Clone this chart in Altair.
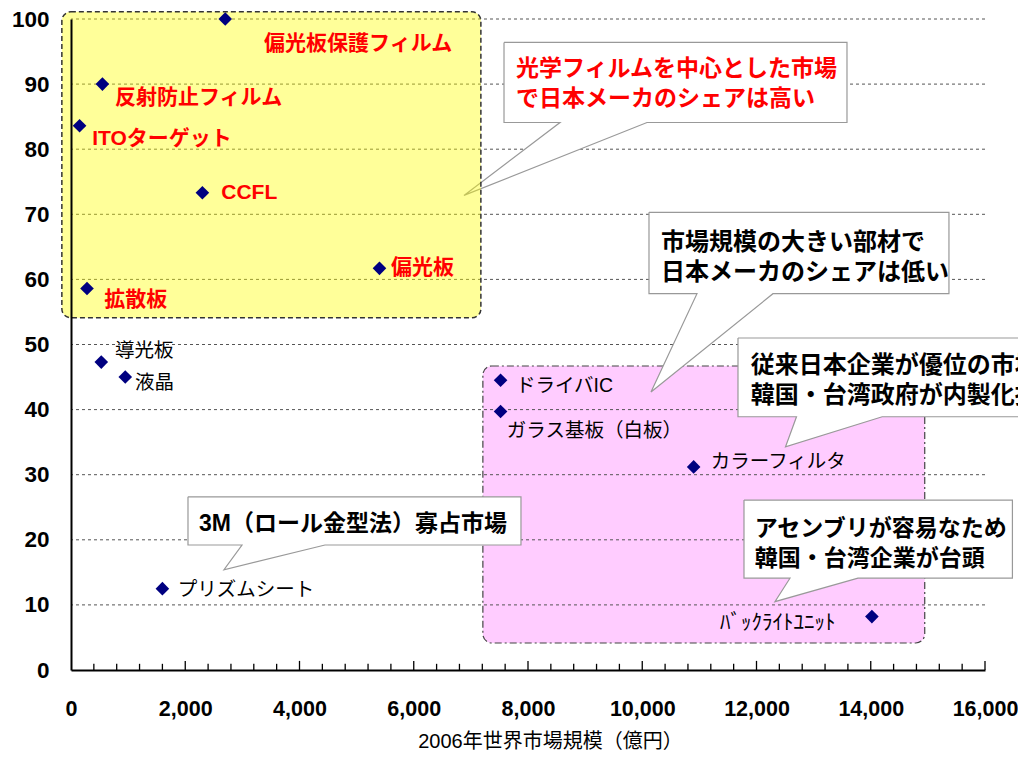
import altair as alt
import pandas as pd

# ---------------- data ----------------
names = ["偏光板保護フィルム", "反射防止フィルム", "ITOターゲット", "CCFL", "偏光板", "拡散板",
         "導光板", "液晶", "プリズムシート", "ドライバIC", "ガラス基板（白板）", "カラーフィルタ",
         "ﾊﾞｯｸﾗｲﾄﾕﾆｯﾄ"]
market = [2700, 550, 150, 2300, 5400, 280, 530, 950, 1600, 7520, 7520, 10900, 14020]
share = [100, 90, 83.6, 73.3, 61.7, 58.6, 47.3, 45.0, 12.5, 44.5, 39.7, 31.2, 8.2]
highlight = [True, True, True, True, True, True, False, False, False, False, False, False, False]

# label anchor positions (data units)
label_x = [3380, 770, 370, 2630, 5600, 580, 770, 1120, 1870, 7790, 7630, 11200, 11360]
label_y = [96.2, 87.9, 81.6, 73.3, 61.8, 56.9, 49.0, 44.1, 12.3, 43.7, 36.7, 32.0, 7.2]

x_major = [0, 2000, 4000, 6000, 8000, 10000, 12000, 14000, 16000]
x_minor = [400, 800, 1200, 1600, 2400, 2800, 3200, 3600, 4400, 4800, 5200, 5600,
           6400, 6800, 7200, 7600, 8400, 8800, 9200, 9600, 10400, 10800, 11200, 11600,
           12400, 12800, 13200, 13600, 14400, 14800, 15200, 15600]
y_ticks = [0, 10, 20, 30, 40, 50, 60, 70, 80, 90, 100]
grid_y = [10, 20, 30, 40, 50, 60, 70, 80, 90, 100]

# highlighted regions (data units)
region_x1 = [-160, 7210]
region_x2 = [7175, 14945]
region_y1 = [101.1, 46.7]
region_y2 = [54.1, 4.15]

# callouts
callout_text = [
    "光学フィルムを中心とした市場\nで日本メーカのシェアは高い",
    "市場規模の大きい部材で\n日本メーカのシェアは低い",
    "従来日本企業が優位の市場\n韓国・台湾政府が内製化推進",
    "アセンブリが容易なため\n韓国・台湾企業が台頭",
    "3M（ロール金型法）寡占市場",
]
callout_color = ["#FF0000", "#000000", "#000000", "#000000", "#000000"]
callout_size = [23, 24, 24, 23, 23]
callout_tx = [7790, 10330, 11900, 11970, 2240]
callout_ty = [94.0, 67.5, 48.6, 23.4, 24.1]
box_x1 = [7580, 10118, 11676, 11781, 2048]
box_x2 = [13584, 15369, 17800, 16480, 7877]
box_y1 = [96.4, 70.3, 51.0, 26.1, 26.6]
box_y2 = [84.1, 57.8, 38.9, 14.1, 19.2]
tail_l = [8560, 10958, 12700, 12586, 2993]
tail_r = [10083, 12288, 14200, 13776, 4446]
tip_x = [6879, 10153, 12508, 12323, 2678]
tip_y = [72.9, 42.7, 34.3, 10.5, 15.4]

# ---------------- tables ----------------
pts = pd.DataFrame({"name": names, "market": market, "share": share, "hl": highlight,
                    "lx": label_x, "ly": label_y})

poly_rows = []
for i in range(len(callout_text)):
    seq = [(box_x1[i], box_y1[i]), (box_x2[i], box_y1[i]), (box_x2[i], box_y2[i]),
           (tail_r[i], box_y2[i]), (tip_x[i], tip_y[i]), (tail_l[i], box_y2[i]),
           (box_x1[i], box_y2[i]), (box_x1[i], box_y1[i])]
    for k, (px, py) in enumerate(seq):
        poly_rows.append({"id": i, "k": k, "x": px, "y": py})
poly = pd.DataFrame(poly_rows)

ctext = pd.DataFrame({"t": callout_text, "c": callout_color, "s": callout_size,
                      "x": callout_tx, "y": callout_ty})
regions = pd.DataFrame({"x1": region_x1, "x2": region_x2, "y1": region_y1, "y2": region_y2})
grid = pd.DataFrame({"y": grid_y})
tmaj = pd.DataFrame({"x": x_major[1:], "y": [0] * 8, "y2": [1.4] * 8})
tmin = pd.DataFrame({"x": x_minor, "y": [0] * len(x_minor), "y2": [0.95] * len(x_minor)})

FONT = "Liberation Sans, Noto Sans CJK JP"

xs = alt.Scale(domain=[0, 16000], nice=False, zero=False)
ys = alt.Scale(domain=[0, 100], nice=False, zero=False)

xaxis = alt.Axis(values=x_major, format=",.0f", labelFont="Liberation Sans", labelFontSize=21.5,
                 labelFontWeight="bold", labelColor="black", ticks=False, domainColor="black",
                 domainWidth=2, grid=False, labelPadding=28, labelFlush=False, labelOverlap=False,
                 title="2006年世界市場規模（億円）", titleFont=FONT, titleFontSize=20,
                 titleFontWeight="normal", titleColor="black", titleX=479, titleY=71,
                 titleBaseline="middle", titleAlign="center", zindex=1)
yaxis = alt.Axis(values=y_ticks, labelFont="Liberation Sans", labelFontSize=22.5,
                 labelFontWeight="bold", labelColor="black", ticks=False, domainColor="black",
                 domainWidth=2, grid=False, labelPadding=22, labelFlush=False,
                 labelOverlap=False, title=None, zindex=1)

base_x = alt.X("market:Q", scale=xs, axis=xaxis)
base_y = alt.Y("share:Q", scale=ys, axis=yaxis)

pink = alt.Chart(regions.iloc[[1]]).mark_rect(
    fill="#FFCCFF", stroke="#444444", strokeWidth=1.2, strokeDash=[7, 3, 2, 3], cornerRadius=9
).encode(x=alt.X("x1:Q", scale=xs), x2="x2:Q", y=alt.Y("y1:Q", scale=ys), y2="y2:Q")

yellow = alt.Chart(regions.iloc[[0]]).mark_rect(
    fill="#FFFF00", fillOpacity=0.4, stroke="#333333", strokeWidth=1.5, strokeDash=[5, 3],
    cornerRadius=9
).encode(x=alt.X("x1:Q", scale=xs), x2="x2:Q", y=alt.Y("y1:Q", scale=ys), y2="y2:Q")

gridl = alt.Chart(grid).mark_rule(color="#555555", strokeWidth=1, strokeDash=[3, 3]).encode(
    y=alt.Y("y:Q", scale=ys))

ticks_major = alt.Chart(tmaj).mark_rule(color="black", strokeWidth=1.3).encode(
    x=alt.X("x:Q", scale=xs), y=alt.Y("y:Q", scale=ys), y2="y2:Q")
ticks_minor = alt.Chart(tmin).mark_rule(color="black", strokeWidth=1.3).encode(
    x=alt.X("x:Q", scale=xs), y=alt.Y("y:Q", scale=ys), y2="y2:Q")

callouts = alt.Chart(poly).mark_line(
    fill="white", stroke="#999999", strokeWidth=1.2, interpolate="linear", strokeJoin="miter"
).encode(x=alt.X("x:Q", scale=xs), y=alt.Y("y:Q", scale=ys), detail="id:N", order="k:Q")

points = alt.Chart(pts).mark_point(shape="diamond", filled=True, size=185, color="#000080",
                                   opacity=1).encode(x=base_x, y=base_y)

lab_red = alt.Chart(pts).transform_filter("datum.hl").mark_text(
    align="left", baseline="middle", font=FONT, fontSize=21, fontWeight="bold", color="#FF0000"
).encode(x=alt.X("lx:Q", scale=xs), y=alt.Y("ly:Q", scale=ys), text="name:N")

lab_blk = alt.Chart(pts).transform_filter(
    "!datum.hl && datum.name != 'ﾊﾞｯｸﾗｲﾄﾕﾆｯﾄ'").mark_text(
    align="left", baseline="middle", font=FONT, fontSize=19.5, fontWeight="normal", color="black"
).encode(x=alt.X("lx:Q", scale=xs), y=alt.Y("ly:Q", scale=ys), text="name:N")

lab_half = alt.Chart(pts).transform_filter("datum.name == 'ﾊﾞｯｸﾗｲﾄﾕﾆｯﾄ'").mark_text(
    align="left", baseline="middle", font=FONT, fontSize=21, fontWeight="normal", color="black"
).encode(x=alt.X("lx:Q", scale=xs), y=alt.Y("ly:Q", scale=ys), text="name:N")

ctexts = alt.Chart(ctext).mark_text(
    align="left", baseline="top", font=FONT, fontWeight="bold", lineBreak="\n", lineHeight=30
).encode(x=alt.X("x:Q", scale=xs), y=alt.Y("y:Q", scale=ys), text="t:N",
         color=alt.Color("c:N", scale=None), size=alt.Size("s:Q", scale=None))

chart = alt.layer(
    pink, gridl, callouts, yellow, ticks_minor, ticks_major, points, lab_red, lab_blk,
    lab_half, ctexts
).properties(
    width=914, height=651,
    padding={"left": 63, "top": 11, "right": 33, "bottom": 80},
    autosize=alt.AutoSizeParams(type="none"),
    background="white",
).configure_view(stroke=None)

chart.save("out.html", embed_options={"renderer": "svg", "actions": False})
